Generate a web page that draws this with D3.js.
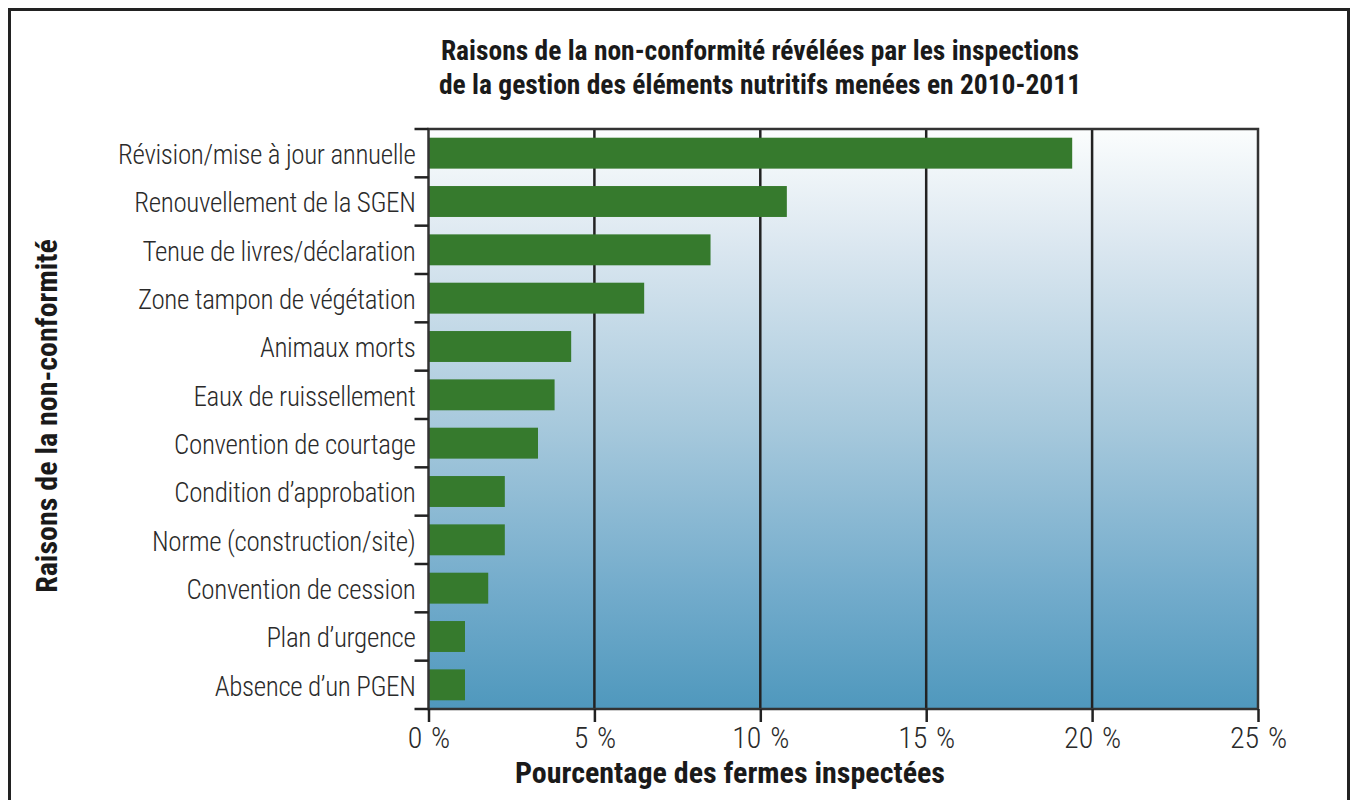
<!DOCTYPE html>
<html lang="fr">
<head>
    <meta charset="UTF-8">
    <title>Raisons de la non-conformité</title>
    <script src="https://d3js.org/d3.v7.min.js"></script>
    <style>
        body { margin: 0; background: #fff; }
        text { font-family: "Liberation Sans Narrow", "Arial Narrow", "Roboto Condensed", sans-serif; }
    </style>
</head>
<body>
<script>
    // data
    const categories = [
        "Révision/mise à jour annuelle",
        "Renouvellement de la SGEN",
        "Tenue de livres/déclaration",
        "Zone tampon de végétation",
        "Animaux morts",
        "Eaux de ruissellement",
        "Convention de courtage",
        "Condition d’approbation",
        "Norme (construction/site)",
        "Convention de cession",
        "Plan d’urgence",
        "Absence d’un PGEN"
    ]
    const values = [19.4, 10.8, 8.5, 6.5, 4.3, 3.8, 3.3, 2.3, 2.3, 1.8, 1.1, 1.1]
    const xTicks = [0, 5, 10, 15, 20, 25]

    const titleLines = [
        "Raisons de la non-conformité révélées par les inspections",
        "de la gestion des éléments nutritifs menées en 2010-2011"
    ]
    const xTitle = "Pourcentage des fermes inspectées"
    const yTitle = "Raisons de la non-conformité"

    const W = 1352, H = 800
    const margin = {top: 129, right: 94, bottom: 91, left: 428.5}
    const width = W - margin.left - margin.right
    const height = H - margin.top - margin.bottom

    const svg = d3.select("body")
        .append("svg")
        .attr("width", W)
        .attr("height", H)

    // outer frame
    svg.append("rect")
        .attr("x", 9.5)
        .attr("y", 9.5)
        .attr("width", 1339)
        .attr("height", 810)
        .attr("fill", "none")
        .attr("stroke", "#222")
        .attr("stroke-width", 3)

    const grad = svg.append("defs")
        .append("linearGradient")
        .attr("id", "bg")
        .attr("x1", 0).attr("y1", 0)
        .attr("x2", 0).attr("y2", 1)
    grad.append("stop").attr("offset", "0%").attr("stop-color", "#fbfdfd")
    grad.append("stop").attr("offset", "20%").attr("stop-color", "#dbe7f0")
    grad.append("stop").attr("offset", "50%").attr("stop-color", "#a9cadd")
    grad.append("stop").attr("offset", "80%").attr("stop-color", "#72abcb")
    grad.append("stop").attr("offset", "100%").attr("stop-color", "#4f98bd")

    const chart = svg.append("g")
        .attr("transform", `translate(${margin.left}, ${margin.top})`)

    const xScale = d3.scaleLinear()
        .domain([0, 25])
        .range([0, width])

    const yScale = d3.scaleBand()
        .domain(categories)
        .range([0, height])
        .paddingInner(0.36)
        .paddingOuter(0.18)

    chart.append("rect")
        .attr("width", width)
        .attr("height", height)
        .attr("fill", "url(#bg)")

    // vertical grid lines
    chart.selectAll(".grid")
        .data(xTicks.slice(1, -1))
        .enter()
        .append("line")
        .attr("class", "grid")
        .attr("x1", d => xScale(d))
        .attr("x2", d => xScale(d))
        .attr("y1", 0)
        .attr("y2", height)
        .attr("stroke", "#222")
        .attr("stroke-width", 2.5)

    chart.selectAll(".bar")
        .data(values)
        .enter()
        .append("rect")
        .attr("class", "bar")
        .attr("x", 0)
        .attr("y", (d, i) => yScale(categories[i]))
        .attr("width", d => xScale(d))
        .attr("height", yScale.bandwidth())
        .attr("fill", "#367a2d")

    // plot frame
    chart.append("rect")
        .attr("width", width)
        .attr("height", height)
        .attr("fill", "none")
        .attr("stroke", "#333")
        .attr("stroke-width", 2.5)

    // x axis
    const xAxis = chart.append("g")
        .attr("transform", `translate(0, ${height})`)
        .call(d3.axisBottom(xScale)
            .tickValues(xTicks)
            .tickSize(13)
            .tickPadding(5)
            .tickFormat(d => d + " %"))
    xAxis.select(".domain").remove()
    xAxis.selectAll("line").attr("stroke", "#222").attr("stroke-width", 2.5)
    xAxis.selectAll("text")
        .attr("fill", "#2a2a2a")
        .style("font-size", "30px")
        .style("font-weight", "300")
        .style("word-spacing", "2px")

    // y axis: ticks on band boundaries
    const bounds = d3.range(categories.length + 1).map(i => i * height / categories.length)
    chart.selectAll(".ytick")
        .data(bounds)
        .enter()
        .append("line")
        .attr("class", "ytick")
        .attr("x1", -14)
        .attr("x2", 0)
        .attr("y1", d => d)
        .attr("y2", d => d)
        .attr("stroke", "#222")
        .attr("stroke-width", 2.5)

    chart.selectAll(".ylabel")
        .data(categories)
        .enter()
        .append("text")
        .attr("class", "ylabel")
        .attr("x", -13)
        .attr("y", d => yScale(d) + yScale.bandwidth() / 2)
        .attr("dy", "0.4em")
        .attr("text-anchor", "end")
        .attr("fill", "#2a2a2a")
        .style("font-size", "27px")
        .style("font-weight", "300")
        .style("letter-spacing", "-0.35px")
        .text(d => d)

    // titles
    svg.selectAll(".title")
        .data(titleLines)
        .enter()
        .append("text")
        .attr("class", "title")
        .attr("x", 760)
        .attr("y", (d, i) => 60 + i * 34)
        .attr("text-anchor", "middle")
        .attr("fill", "#1a1a1a")
        .style("font-size", "27.5px")
        .style("font-weight", "bold")
        .text(d => d)

    svg.append("text")
        .attr("x", 730)
        .attr("y", 783)
        .attr("text-anchor", "middle")
        .attr("fill", "#1a1a1a")
        .style("font-size", "30px")
        .style("font-weight", "bold")
        .text(xTitle)

    svg.append("text")
        .attr("transform", "translate(57, 416) rotate(-90)")
        .attr("text-anchor", "middle")
        .attr("fill", "#1a1a1a")
        .style("font-size", "30px")
        .style("font-weight", "bold")
        .text(yTitle)
</script>
</body>
</html>
